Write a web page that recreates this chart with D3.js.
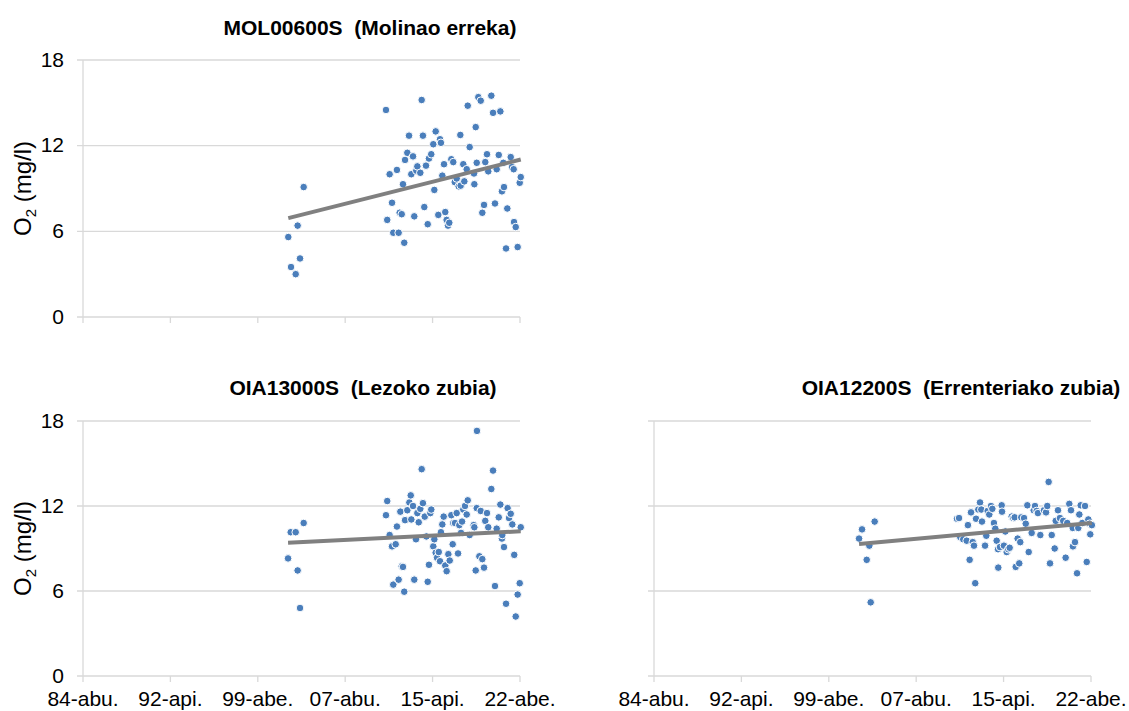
<!DOCTYPE html>
<html>
<head>
<meta charset="utf-8">
<script src="https://cdn.jsdelivr.net/npm/d3@7"></script>
<style>
  html, body { margin: 0; padding: 0; background: #fff; }
  svg { display: block; font-family: "Liberation Sans", Arial, sans-serif; }
  .title { font-weight: bold; font-size: 21px; fill: #000; white-space: pre; }
  .tick-label { font-size: 21px; fill: #000; }
  .ylab { font-size: 24px; fill: #000; }
</style>
</head>
<body>
<svg id="chart" width="1129" height="711"></svg>
<script>
// Dissolved oxygen (mg/l) per sampling date, stored as decimal years

const molYears = [2002.59, 2002.83, 2003.24, 2003.41, 2003.62, 2003.94,
  2011.16, 2011.27, 2011.48, 2011.69, 2011.80, 2012.12, 2012.27, 2012.36, 2012.54, 2012.65,
  2012.76, 2012.83, 2013.03, 2013.18, 2013.38, 2013.53, 2013.64, 2013.82, 2013.91, 2014.17,
  2014.29, 2014.40, 2014.52, 2014.67, 2014.82, 2014.93, 2015.13, 2015.31, 2015.40, 2015.52,
  2015.75, 2015.90, 2015.98, 2016.10, 2016.25, 2016.36, 2016.48, 2016.60, 2016.71, 2016.89,
  2017.06, 2017.19, 2017.36, 2017.54, 2017.68, 2017.71, 2017.94, 2018.03, 2018.24, 2018.33,
  2018.50, 2018.88, 2018.91, 2019.03, 2019.12, 2019.26, 2019.47, 2019.61, 2019.76, 2019.87,
  2020.02, 2020.13, 2020.40, 2020.55, 2020.72, 2020.87, 2021.05, 2021.19, 2021.33, 2021.45,
  2021.51, 2021.69, 2021.80, 2022.10, 2022.21, 2022.36, 2022.39, 2022.54, 2022.71, 2022.89,
  2022.98];
const molValues = [5.6, 3.5, 3.0, 6.4, 4.1, 9.1,
  14.5, 6.8, 10.0, 8.0, 5.9, 10.3, 5.9, 7.3, 7.2, 9.3,
  5.2, 11.0, 11.5, 12.7, 10.0, 11.25, 7.05, 10.25, 10.55, 10.1,
  15.2, 12.7, 7.7, 10.6, 6.5, 11.1, 11.4, 12.1, 8.9, 13.0,
  7.15, 12.45, 12.2, 9.9, 10.7, 7.35, 6.8, 6.4, 6.6, 11.05,
  10.85, 9.45, 9.7, 9.15, 12.75, 9.2, 10.7, 9.5, 10.35, 14.8,
  11.9, 10.05, 9.3, 13.3, 10.8, 15.4, 15.15, 7.3, 7.85, 10.85,
  11.4, 10.2, 15.5, 14.3, 7.95, 10.35, 11.35, 14.4, 8.8, 10.8,
  9.1, 4.8, 7.6, 11.2, 10.5, 10.35, 6.65, 6.3, 4.9, 9.4,
  9.8];

const lezYears = [2002.57, 2002.80, 2003.24, 2003.41, 2003.62, 2003.94,
  2011.16, 2011.27, 2011.48, 2011.69, 2011.80, 2012.01, 2012.12, 2012.27, 2012.42, 2012.54,
  2012.65, 2012.76, 2012.83, 2013.03, 2013.21, 2013.33, 2013.38, 2013.53, 2013.64, 2013.79,
  2013.91, 2014.03, 2014.17, 2014.29, 2014.40, 2014.56, 2014.70, 2014.82, 2014.93, 2015.05,
  2015.13, 2015.31, 2015.40, 2015.52, 2015.64, 2015.79, 2015.90, 2015.98, 2016.10, 2016.22,
  2016.36, 2016.48, 2016.63, 2016.75, 2016.89, 2017.01, 2017.06, 2017.21, 2017.36, 2017.48,
  2017.59, 2017.74, 2017.83, 2017.94, 2018.09, 2018.24, 2018.33, 2018.50, 2018.85, 2018.91,
  2019.03, 2019.12, 2019.14, 2019.35, 2019.47, 2019.61, 2019.76, 2019.87, 2020.02, 2020.13,
  2020.40, 2020.55, 2020.72, 2020.87, 2021.05, 2021.19, 2021.33, 2021.36, 2021.51, 2021.69,
  2021.83, 2021.95, 2022.10, 2022.24, 2022.41, 2022.54, 2022.71, 2022.89, 2022.98];
const lezValues = [8.3, 10.15, 10.15, 7.45, 4.8, 10.8,
  11.35, 12.35, 9.95, 9.15, 6.45, 9.3, 10.55, 6.8, 11.6, 7.75,
  7.7, 5.95, 11.0, 11.7, 12.25, 12.75, 11.05, 12.0, 6.8, 9.65,
  11.5, 10.85, 11.8, 14.6, 12.2, 11.25, 9.85, 6.65, 7.85, 11.5,
  11.75, 9.15, 9.65, 8.7, 8.35, 8.75, 8.1, 10.15, 10.7, 11.25,
  7.8, 7.4, 8.6, 8.15, 11.35, 9.3, 10.8, 10.8, 11.5, 8.65,
  10.65, 10.1, 10.9, 11.75, 12.0, 11.4, 12.4, 9.95, 10.65, 10.5,
  7.45, 11.85, 17.3, 8.45, 11.65, 8.25, 7.65, 10.95, 11.5, 10.5,
  13.2, 14.5, 6.35, 10.4, 11.2, 12.1, 9.7, 9.95, 9.1, 5.1,
  11.85, 11.15, 11.45, 10.7, 8.55, 4.2, 5.75, 6.55, 10.5];

const errYears = [2002.57, 2002.83, 2003.24, 2003.47, 2003.59, 2003.94,
  2011.16, 2011.34, 2011.45, 2011.71, 2012.01, 2012.12, 2012.27, 2012.39, 2012.54, 2012.65,
  2012.76, 2012.83, 2013.03, 2013.18, 2013.29, 2013.35, 2013.62, 2013.73, 2013.85, 2013.99,
  2014.14, 2014.26, 2014.40, 2014.52, 2014.64, 2014.76, 2014.78, 2014.93, 2015.08, 2015.11,
  2015.28, 2015.40, 2015.52, 2015.66, 2015.78, 2015.96, 2016.10, 2016.22, 2016.31, 2016.48,
  2016.62, 2016.71, 2016.80, 2017.04, 2017.19, 2017.33, 2017.45, 2017.71, 2017.89, 2018.00,
  2018.15, 2018.26, 2018.47, 2018.79, 2018.97, 2019.08, 2019.20, 2019.32, 2019.47, 2019.73,
  2019.82, 2020.02, 2020.19, 2020.48, 2020.69, 2020.83, 2021.01, 2021.16, 2021.31, 2021.33,
  2021.51, 2021.69, 2021.80, 2021.89, 2022.01, 2022.15, 2022.39, 2022.54, 2022.68, 2022.80,
  2022.85, 2022.99];
const errValues = [9.7, 10.35, 8.2, 9.2, 5.2, 10.9,
  11.1, 11.15, 9.8, 9.65, 9.55, 10.65, 8.2, 11.55, 9.45, 9.2,
  6.55, 11.1, 11.75, 12.25, 11.75, 10.9, 9.2, 9.9, 11.65, 11.4,
  12.0, 11.8, 10.8, 10.4, 9.55, 8.95, 7.65, 9.1, 12.05, 11.6,
  9.2, 10.2, 8.75, 8.95, 9.05, 11.25, 11.15, 11.2, 7.7, 9.7,
  7.95, 9.45, 11.2, 11.15, 10.75, 12.05, 8.75, 10.1, 11.7, 12.0,
  11.65, 11.5, 9.95, 11.7, 11.55, 12.0, 13.7, 7.95, 9.95, 9.0,
  10.95, 11.7, 11.15, 10.95, 8.35, 10.8, 12.15, 11.7, 10.45, 9.15,
  9.45, 7.25, 10.45, 11.4, 12.05, 10.8, 12.0, 8.05, 11.05, 10.75,
  10.0, 10.65];

// Axis definitions shared by the three panels
const yTicks = [0, 6, 12, 18];
const xTickLabels = ["84-abu.", "92-api.", "99-abe.", "07-abu.", "15-api.", "22-abe."];
const xStart = new Date(1984, 7, 1);
const xTickStepMonths = 92;

const panels = [
  { title: "MOL00600S  (Molinao erreka)", years: molYears, values: molValues,
    box: { l: 83, r: 520, t: 60, b: 317 }, titleX: 370, titleY: 35,
    yLabels: true, xLabels: false },
  { title: "OIA13000S  (Lezoko zubia)", years: lezYears, values: lezValues,
    box: { l: 83, r: 520, t: 421, b: 676 }, titleX: 363, titleY: 395,
    yLabels: true, xLabels: true },
  { title: "OIA12200S  (Errenteriako zubia)", years: errYears, values: errValues,
    box: { l: 654, r: 1091, t: 421, b: 676 }, titleX: 961, titleY: 395,
    yLabels: false, xLabels: true }
];

function yearToDate(y) {
  const yr = Math.floor(y);
  const a = new Date(yr, 0, 1), b = new Date(yr + 1, 0, 1);
  return new Date(+a + (y - yr) * (b - a));
}

const xTickDates = xTickLabels.map((_, i) => d3.timeMonth.offset(xStart, xTickStepMonths * i));
const xEnd = xTickDates[xTickDates.length - 1];

const svg = d3.select("#chart");
const gridColor = "#d9d9d9";
const dotColor = "#4a7ebb";

panels.forEach(p => {
  const { l, r, t, b } = p.box;
  const x = d3.scaleTime().domain([xStart, xEnd]).range([l, r]);
  const y = d3.scaleLinear().domain([0, 18]).range([b, t]);
  const g = svg.append("g");

  // horizontal gridlines with short tick stubs left of the axis
  g.selectAll(".grid").data(yTicks).join("line")
    .attr("x1", l - 6).attr("x2", r)
    .attr("y1", d => y(d)).attr("y2", d => y(d))
    .attr("stroke", gridColor).attr("stroke-width", 1.3);

  // vertical axis line
  g.append("line").attr("x1", l).attr("x2", l).attr("y1", t).attr("y2", b)
    .attr("stroke", gridColor).attr("stroke-width", 1.3);

  // x axis tick marks
  g.selectAll(".xt").data(xTickDates).join("line")
    .attr("x1", d => x(d)).attr("x2", d => x(d))
    .attr("y1", b).attr("y2", b + 6)
    .attr("stroke", gridColor).attr("stroke-width", 1.3);

  if (p.yLabels) {
    g.selectAll(".yl").data(yTicks).join("text")
      .attr("class", "tick-label")
      .attr("x", l - 19).attr("y", d => y(d) + 6.5)
      .attr("text-anchor", "end")
      .text(d => d);
    const lab = g.append("text").attr("class", "ylab")
      .attr("transform", `translate(31,${(t + b) / 2}) rotate(-90)`)
      .attr("text-anchor", "middle");
    lab.append("tspan").text("O");
    lab.append("tspan").attr("font-size", "15px").attr("dy", 5).text("2");
    lab.append("tspan").attr("dy", -5).text(" (mg/l)");
  }

  if (p.xLabels) {
    g.selectAll(".xl").data(xTickDates).join("text")
      .attr("class", "tick-label")
      .attr("x", d => x(d)).attr("y", b + 30.3)
      .attr("text-anchor", "middle")
      .text((d, i) => xTickLabels[i]);
  }

  g.append("text").attr("class", "title")
    .attr("x", p.titleX).attr("y", p.titleY)
    .attr("text-anchor", "middle").text(p.title);

  const pts = p.years.map((yy, i) => ({ date: yearToDate(yy), v: p.values[i] }));

  // least-squares linear trend over the sampling dates
  const xs = pts.map(d => +d.date), vs = pts.map(d => d.v);
  const mx = d3.mean(xs), mv = d3.mean(vs);
  const slope = d3.sum(xs, (xx, i) => (xx - mx) * (vs[i] - mv)) / d3.sum(xs, xx => (xx - mx) ** 2);
  const fit = xx => mv + slope * (xx - mx);
  const [x0, x1] = d3.extent(xs);

  g.selectAll(".dot").data(pts).join("circle")
    .attr("cx", d => x(d.date)).attr("cy", d => y(d.v))
    .attr("r", 3.8)
    .attr("fill", dotColor).attr("stroke", "#fff").attr("stroke-width", 1);

  g.append("line")
    .attr("x1", x(new Date(x0))).attr("y1", y(fit(x0)))
    .attr("x2", x(new Date(x1))).attr("y2", y(fit(x1)))
    .attr("stroke", "#808080").attr("stroke-width", 4);
});
</script>
</body>
</html>
